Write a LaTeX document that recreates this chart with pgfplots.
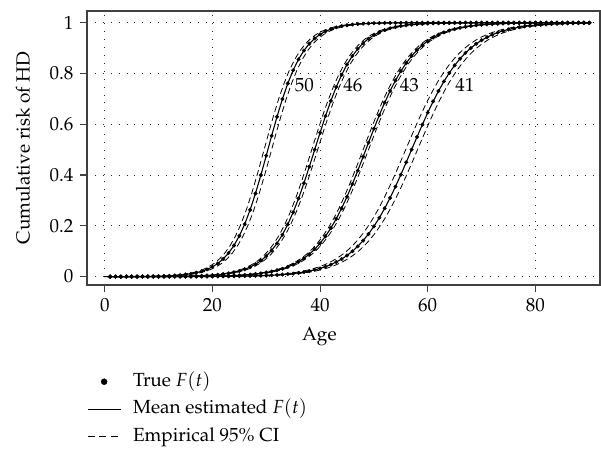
\documentclass[border=0pt]{standalone}
\usepackage[T1]{fontenc}
\usepackage{mathpazo}
\usepackage{pgfplots}
\usepackage{pgfplotstable}
\pgfplotsset{compat=1.18}

% t = age; a,b,c,d = cumulative risk for CAG 50, 46, 43, 41
\pgfplotstableread{
t a b c d
1 0.0001 0.00003 0.00003 0.00001
2 0.00014 0.00005 0.00003 0.00002
3 0.0002 0.00006 0.00004 0.00002
4 0.00027 0.00008 0.00005 0.00002
5 0.00037 0.0001 0.00006 0.00003
6 0.0005 0.00013 0.00008 0.00004
7 0.00069 0.00018 0.0001 0.00005
8 0.00094 0.00023 0.00012 0.00006
9 0.00129 0.0003 0.00015 0.00007
10 0.00175 0.0004 0.00019 0.00008
11 0.0024 0.00052 0.00024 0.0001
12 0.00327 0.00068 0.0003 0.00012
13 0.00447 0.00089 0.00037 0.00015
14 0.0061 0.00116 0.00047 0.00018
15 0.00832 0.00152 0.00058 0.00022
16 0.01133 0.00199 0.00073 0.00027
17 0.01543 0.00261 0.00091 0.00034
18 0.02096 0.00342 0.00114 0.00041
19 0.02844 0.00447 0.00142 0.0005
20 0.03845 0.00585 0.00177 0.00061
21 0.05184 0.00765 0.00221 0.00075
22 0.06954 0.0100 0.00276 0.00091
23 0.0927 0.01307 0.00345 0.00111
24 0.1225 0.01706 0.0043 0.00136
25 0.1603 0.02223 0.00537 0.00166
26 0.2068 0.02891 0.00669 0.00202
27 0.2629 0.03758 0.00834 0.00247
28 0.3276 0.04866 0.0104 0.00302
29 0.3998 0.06281 0.01295 0.00369
30 0.4765 0.08078 0.01613 0.0045
31 0.5546 0.1032 0.02006 0.00548
32 0.6297 0.131 0.02493 0.00669
33 0.6993 0.1649 0.03093 0.00816
34 0.7606 0.2057 0.03835 0.00995
35 0.8129 0.2535 0.04743 0.01213
36 0.8558 0.3077 0.05855 0.01477
37 0.8903 0.368 0.07205 0.01799
38 0.9173 0.4329 0.08842 0.02188
39 0.9382 0.5 0.108 0.0266
40 0.9539 0.5671 0.1314 0.0323
41 0.9659 0.632 0.1588 0.03917
42 0.9748 0.6923 0.1909 0.04743
43 0.9815 0.7466 0.2276 0.05732
44 0.9864 0.7943 0.2689 0.06914
45 0.99 0.8351 0.3148 0.08317
46 0.9927 0.869 0.3645 0.09975
47 0.9946 0.8968 0.4175 0.1192
48 0.9961 0.9192 0.4723 0.1419
49 0.9971 0.9372 0.5277 0.168
50 0.9979 0.9514 0.5825 0.1978
51 0.9985 0.9624 0.6355 0.2315
52 0.9989 0.9711 0.6852 0.2689
53 0.9992 0.9778 0.7311 0.31
54 0.9994 0.9829 0.7724 0.3543
55 0.9996 0.9869 0.8091 0.4013
56 0.9997 0.99 0.8412 0.4502
57 0.9998 0.9924 0.8686 0.5
58 0.9998 0.9941 0.892 0.5498
59 0.9999 0.9955 0.9116 0.5987
60 0.9999 0.9966 0.928 0.6457
61 1 0.9974 0.9415 0.69
62 1 0.998 0.9526 0.7311
63 1 0.9985 0.9617 0.7685
64 1 0.9988 0.9691 0.8022
65 1 0.9991 0.9751 0.832
66 1 0.9993 0.9799 0.8581
67 1 0.9995 0.9839 0.8808
68 1 0.9996 0.987 0.9002
69 1 0.9997 0.9896 0.9168
70 1 0.9998 0.9917 0.9309
71 1 0.9998 0.9933 0.9427
72 1 0.9999 0.9946 0.9526
73 1 0.9999 0.9957 0.9608
74 1 1 0.9966 0.9677
75 1 1 0.9972 0.9734
76 1 1 0.9978 0.9781
77 1 1 0.9982 0.982
78 1 1 0.9986 0.9852
79 1 1 0.9989 0.9879
80 1 1 0.9991 0.99
81 1 1 0.9993 0.9918
82 1 1 0.9994 0.9933
83 1 1 0.9995 0.9945
84 1 1 0.9996 0.9955
85 1 1 0.9997 0.9963
86 1 1 0.9997 0.997
87 1 1 0.9998 0.9975
88 1 1 0.9998 0.998
89 1 1 0.9999 0.9983
90 1 1 0.9999 0.9986
}\risk

\pgfplotsset{
  meanline/.style={black, line width=1.1pt},
  truedots/.style={only marks, mark=*, mark size=1.8pt, black},
  ciline/.style={black, line width=0.8pt, dash pattern=on 6pt off 3.5pt},
}

\begin{document}
\fontsize{19}{22}\selectfont
\begin{tikzpicture}
\useasboundingbox (-87pt,-165pt) rectangle (514pt,285pt);
\begin{axis}[
  scale only axis,
  width=513pt, height=274pt,
  xmin=-3.3, xmax=92,
  ymin=-0.033, ymax=1.046,
  xtick={0,20,40,60,80},
  ytick={0,0.2,0.4,0.6,0.8,1},
  xlabel={Age},
  ylabel={Cumulative risk of HD},
  xlabel style={at={(axis description cs:0.453,-0.19)}, anchor=center},
  ylabel style={at={(axis description cs:-0.125,0.5)}, anchor=center},
  axis line style={black!75, line width=1.1pt},
  tick style={black!75, line width=1.1pt},
  tick align=outside,
  major tick length=7pt,
  xtick pos=bottom, ytick pos=left,
  grid=major,
  grid style={black!85, line width=0.9pt, dash pattern=on 0.9pt off 7pt},
  legend image code/.code={\draw[mark repeat=2,mark phase=2,#1] plot coordinates {(0pt,0pt) (16.5pt,0pt) (33pt,0pt)};},
  legend cell align=left,
  legend style={at={(0,-0.3175)}, anchor=north west, draw=none, fill=none,
    inner xsep=0pt, inner ysep=0pt, row sep=8.5pt,
    nodes={inner sep=0pt, text height=14pt, text depth=5pt},
    /tikz/every odd column/.append style={column sep=12pt}},
]
\addlegendimage{truedots, mark size=3pt}
\addlegendentry{True $F(t)$}
\addlegendimage{meanline, line width=0.9pt}
\addlegendentry{Mean estimated $F(t)$}
\addlegendimage{black, line width=0.9pt, dash pattern=on 7pt off 4.5pt}
\addlegendentry{Empirical 95\% CI}

\addplot[ciline, forget plot] table[x expr=\thisrow{t}-0.7, y=a] {\risk};
\addplot[ciline, forget plot] table[x expr=\thisrow{t}+0.7, y=a] {\risk};
\addplot[meanline, forget plot] table[x=t, y=a] {\risk};
\addplot[truedots, forget plot] table[x=t, y=a] {\risk};

\addplot[ciline, forget plot] table[x expr=\thisrow{t}-0.55, y=b] {\risk};
\addplot[ciline, forget plot] table[x expr=\thisrow{t}+0.55, y=b] {\risk};
\addplot[meanline, forget plot] table[x=t, y=b] {\risk};
\addplot[truedots, forget plot] table[x=t, y=b] {\risk};

\addplot[ciline, forget plot] table[x expr=\thisrow{t}-0.5, y=c] {\risk};
\addplot[ciline, forget plot] table[x expr=\thisrow{t}+0.5, y=c] {\risk};
\addplot[meanline, forget plot] table[x=t, y=c] {\risk};
\addplot[truedots, forget plot] table[x=t, y=c] {\risk};

\addplot[ciline, forget plot] table[x expr=\thisrow{t}-1.1, y=d] {\risk};
\addplot[ciline, forget plot] table[x expr=\thisrow{t}+1.1, y=d] {\risk};
\addplot[meanline, forget plot] table[x=t, y=d] {\risk};
\addplot[truedots, forget plot] table[x=t, y=d] {\risk};

\node[anchor=west, inner sep=0pt] at (axis cs:35.3,0.755) {50};
\node[anchor=west, inner sep=0pt] at (axis cs:44.3,0.755) {46};
\node[anchor=west, inner sep=0pt] at (axis cs:54.8,0.755) {43};
\node[anchor=west, inner sep=0pt] at (axis cs:65.1,0.755) {41};
\end{axis}
\end{tikzpicture}
\end{document}
